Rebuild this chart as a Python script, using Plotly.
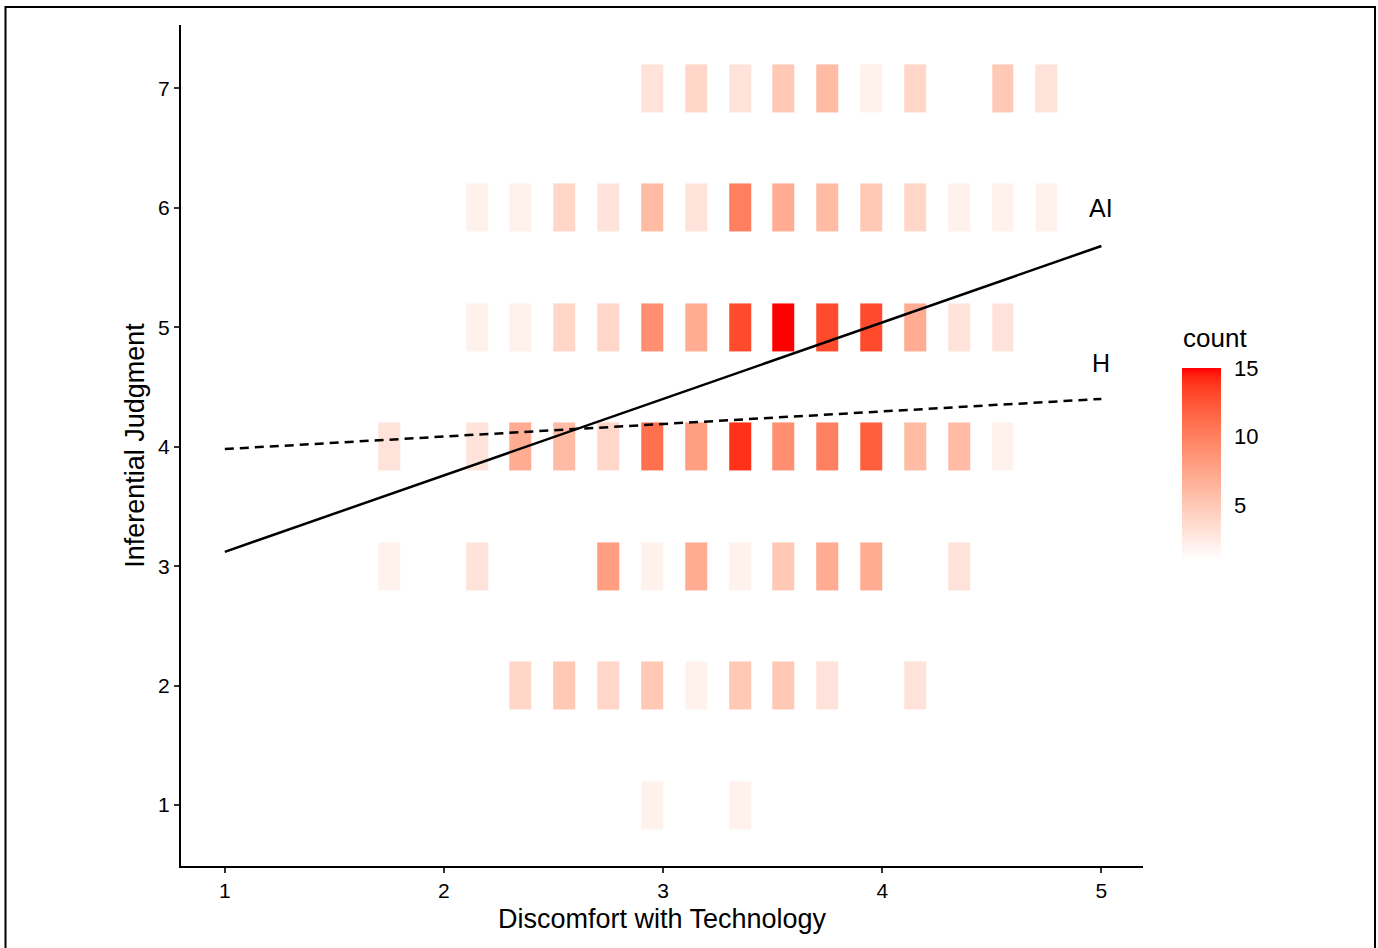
import plotly.graph_objects as go

# ---------------- data ----------------
x_centers = [1.75, 1.95, 2.15, 2.35, 2.55, 2.75, 2.95, 3.15, 3.35, 3.55,
             3.75, 3.95, 4.15, 4.35, 4.55, 4.75]
y_centers = [1, 2, 3, 4, 5, 6, 7]
N = None
counts_y1 = [N, N, N, N, N, N, 2, N, 2, N, N, N, N, N, N, N]
counts_y2 = [N, N, N, 4, 5, 4, 5, 2, 5, 5, 3, N, 3, N, N, N]
counts_y3 = [2, N, 3, N, N, 8, 2, 7, 2, 5, 7, 7, N, 3, N, N]
counts_y4 = [3, N, 3, 7, 6, 4, 11, 8, 14, 9, 10, 12, 6, 6, 2, N]
counts_y5 = [N, N, 2, 2, 4, 4, 9, 7, 13, 15, 13, 13, 7, 3, 3, N]
counts_y6 = [N, N, 2, 2, 4, 3, 6, 3, 10, 7, 6, 5, 4, 2, 2, 2]
counts_y7 = [N, N, N, N, N, N, 3, 4, 3, 5, 6, 2, 4, N, 5, 3]
counts = [counts_y1, counts_y2, counts_y3, counts_y4, counts_y5, counts_y6, counts_y7]

ai_x = [1, 5]
ai_y = [3.12, 5.68]
h_x = [1, 5]
h_y = [3.98, 4.40]
label_ai = ("AI", 5.0, 6.0)
label_h = ("H", 5.0, 4.7)

x_ticks = [1, 2, 3, 4, 5]
y_ticks = [1, 2, 3, 4, 5, 6, 7]
cbar_ticks = [5, 10, 15]
count_min, count_max = 1, 15

TILE_W = 0.1
TILE_H = 0.4

# ---------------- build tile grid (edges + gap cells) ----------------
x_edges = []
for c in x_centers:
    x_edges += [c - TILE_W / 2, c + TILE_W / 2]
y_edges = []
for c in y_centers:
    y_edges += [c - TILE_H / 2, c + TILE_H / 2]

z = []
for ri, row in enumerate(counts):
    zr = []
    for ci, v in enumerate(row):
        zr.append(v)
        if ci < len(row) - 1:
            zr.append(None)
    z.append(zr)
    if ri < len(counts) - 1:
        z.append([None] * len(zr))

# ---------------- white -> red colorscale in Lab (like ggplot) ----------------
def srgb_to_lin(c):
    c = c / 255
    return c / 12.92 if c <= 0.04045 else ((c + 0.055) / 1.055) ** 2.4

def lin_to_srgb(c):
    c = max(0.0, min(1.0, c))
    v = 12.92 * c if c <= 0.0031308 else 1.055 * c ** (1 / 2.4) - 0.055
    return round(v * 255)

WX, WY, WZ = 0.95047, 1.0, 1.08883

def rgb_to_lab(rgb):
    r, g, b = [srgb_to_lin(v) for v in rgb]
    X = 0.4124 * r + 0.3576 * g + 0.1805 * b
    Y = 0.2126 * r + 0.7152 * g + 0.0722 * b
    Z = 0.0193 * r + 0.1192 * g + 0.9505 * b
    def f(t):
        return t ** (1 / 3) if t > 0.008856 else 7.787 * t + 16 / 116
    fx, fy, fz = f(X / WX), f(Y / WY), f(Z / WZ)
    return (116 * fy - 16, 500 * (fx - fy), 200 * (fy - fz))

def lab_to_rgb(lab):
    L, a, b = lab
    fy = (L + 16) / 116
    fx = fy + a / 500
    fz = fy - b / 200
    def finv(t):
        return t ** 3 if t ** 3 > 0.008856 else (t - 16 / 116) / 7.787
    X, Y, Z = WX * finv(fx), WY * finv(fy), WZ * finv(fz)
    r = 3.2406 * X - 1.5372 * Y - 0.4986 * Z
    g = -0.9689 * X + 1.8758 * Y + 0.0415 * Z
    bb = 0.0557 * X - 0.2040 * Y + 1.0570 * Z
    return tuple(lin_to_srgb(v) for v in (r, g, bb))

lo = rgb_to_lab((255, 255, 255))
hi = rgb_to_lab((255, 0, 0))
colorscale = []
n = 20
for i in range(n + 1):
    t = i / n
    lab = tuple(lo[k] + (hi[k] - lo[k]) * t for k in range(3))
    r, g, b = lab_to_rgb(lab)
    colorscale.append([t, f"rgb({r},{g},{b})"])

# ---------------- layout geometry (body margin removed -> page pixels) ----------------
W, H = 1378, 948
PL, PR, PT, PB = 181, 1143, 25, 866   # plot-area pixels
PW, PH = PR - PL, PB - PT

def px_x(p):
    return (p - PL) / PW

def px_y(p):
    return (PB - p) / PH

FONT = "Liberation Sans, Arial, Helvetica, sans-serif"

colorbar = dict(
    x=px_x(1182), xanchor="left", xpad=0,
    y=px_y(560), yanchor="bottom", ypad=0,
    lenmode="pixels", len=192,
    thickness=39, thicknessmode="pixels",
    outlinewidth=0,
    tickvals=cbar_ticks,
    ticks="outside", ticklen=9, tickcolor="rgba(255,255,255,0)", tickwidth=1,
    tickfont=dict(size=22, color="black", family=FONT),
)

fig = go.Figure()
fig.add_trace(go.Heatmap(
    x=x_edges, y=y_edges, z=z,
    zmin=count_min, zmax=count_max,
    colorscale=colorscale,
    hoverongaps=False,
    colorbar=colorbar,
))

fig.add_trace(go.Scatter(x=ai_x, y=ai_y, mode="lines",
                         line=dict(color="black", width=2.5), showlegend=False, hoverinfo="skip"))
fig.add_trace(go.Scatter(x=h_x, y=h_y, mode="lines",
                         line=dict(color="black", width=2.5, dash="9px,6px"), showlegend=False, hoverinfo="skip"))

for txt, lx, ly in (label_ai, label_h):
    fig.add_annotation(x=lx, y=ly, text=txt, showarrow=False,
                       font=dict(size=25, color="black", family=FONT),
                       xanchor="center", yanchor="middle")

# colour legend title
fig.add_annotation(xref="paper", yref="paper", x=px_x(1181), y=px_y(338),
                   text="count", showarrow=False, xanchor="left", yanchor="middle",
                   font=dict(size=26, color="black", family=FONT))

# outer frame
fig.add_shape(type="rect", xref="paper", yref="paper",
              x0=px_x(5.5), x1=px_x(1375),
              y0=px_y(970), y1=px_y(7),
              line=dict(color="black", width=2), fillcolor="rgba(0,0,0,0)", layer="above")

fig.update_layout(
    width=W, height=H,
    margin=dict(l=PL, r=W - PR, t=PT, b=H - PB, autoexpand=False),
    plot_bgcolor="white", paper_bgcolor="white",
    font=dict(family=FONT, color="black"),
    showlegend=False,
    xaxis=dict(
        range=[0.8, 5.19], tickvals=x_ticks, showgrid=False, zeroline=False,
        showline=True, linecolor="black", linewidth=2,
        ticks="outside", ticklen=5, tickwidth=1.5, tickcolor="#333333",
        tickfont=dict(size=21, color="black"),
        title=dict(text="Discomfort with Technology", font=dict(size=27, color="black"), standoff=8),
    ),
    yaxis=dict(
        range=[0.49, 7.53], tickvals=y_ticks, showgrid=False, zeroline=False,
        showline=True, linecolor="black", linewidth=2,
        ticks="outside", ticklen=5, tickwidth=1.5, tickcolor="#333333",
        tickfont=dict(size=21, color="black"),
        title=dict(text="Inferential Judgment", font=dict(size=27, color="black"), standoff=6),
    ),
)

fig.write_html("out.html", config={"displayModeBar": False},
               post_script="document.body.style.margin='0';document.body.style.overflow='hidden';")
